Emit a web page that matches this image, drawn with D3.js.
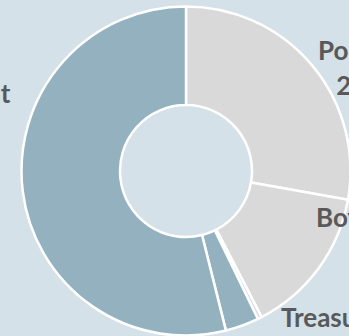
<!DOCTYPE html>
<html>
<head>
<meta charset="utf-8">
<script src="https://cdn.jsdelivr.net/npm/d3@7"></script>
<style>
  html, body { margin: 0; padding: 0; background: #d4e1e8; overflow: hidden; }
  svg { display: block; }
</style>
</head>
<body>
<svg id="chart" width="349" height="336"></svg>
<script>
// Portfolio allocation by investment type
const categories = ["Policies", "Bovespa", "Treasury", "CDB", "Investment"];
const shares = [27.8, 14.6, 0.4, 3.3, 53.9];
const shareLabels = ["28%", "15%", "0%", "3%", "54%"];

const sliceColors = ["#d9d9d9", "#d9d9d9", "#d9d9d9", "#93b1bf", "#93b1bf"];

const width = 349, height = 336;
const cx = 186, cy = 171;
const outerR = 164.5, innerR = 66;

const svg = d3.select("#chart");

const pie = d3.pie().sort(null).value(d => d)(shares);
const arc = d3.arc().innerRadius(innerR).outerRadius(outerR);

const g = svg.append("g").attr("transform", `translate(${cx},${cy})`);

g.selectAll("path.slice")
  .data(pie)
  .join("path")
  .attr("class", "slice")
  .attr("d", arc)
  .attr("fill", (d, i) => sliceColors[i])
  .attr("stroke", "#ffffff")
  .attr("stroke-width", 2.5)
  .attr("stroke-linejoin", "round");

// Data label layout: anchor point of the first line, and which edge it anchors
const labelLayout = [
  { x: 318, y: 60, edge: "start", lines: [categories[0], shareLabels[0]] },
  { x: 316, y: 227, edge: "start", lines: [categories[1] + " " + shareLabels[1]] },
  { x: 281, y: 327, edge: "start", lines: [categories[2] + " " + shareLabels[2]] },
  null,
  { x: 10.5, y: 103, edge: "end", lines: [categories[4], shareLabels[4]] }
];

const lineGap = 35;

labelLayout.forEach(lab => {
  if (!lab) return;
  const t = svg.append("text")
    .attr("font-family", "Lato, 'Open Sans', sans-serif")
    .attr("font-weight", 700)
    .attr("font-size", 26)
    .attr("fill", "#595959")
    .attr("text-anchor", "middle");
  const spans = lab.lines.map((s, k) =>
    t.append("tspan").attr("y", lab.y + k * lineGap).text(s));
  const w0 = spans[0].node().getComputedTextLength();
  const mid = lab.edge === "start" ? lab.x + w0 / 2 : lab.x - w0 / 2;
  spans.forEach(sp => sp.attr("x", mid));
});
</script>
</body>
</html>
